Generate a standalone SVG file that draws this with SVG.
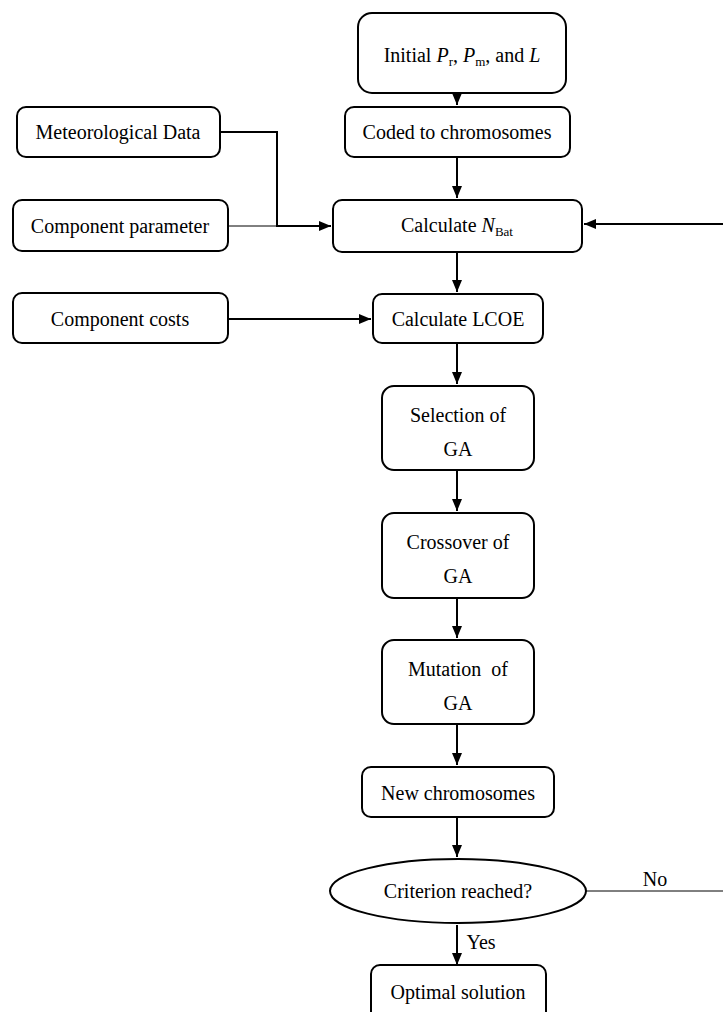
<svg xmlns="http://www.w3.org/2000/svg" width="723" height="1012" viewBox="0 0 723 1012">
<defs>
<marker id="ah" markerWidth="12" markerHeight="10" refX="12" refY="5" orient="auto" markerUnits="userSpaceOnUse">
<path d="M0,0 L12,5 L0,10 Z" fill="#000"/>
</marker>
<style>
.box{fill:#fff;stroke:#000;stroke-width:2}
.t{font-family:"Liberation Serif","Times New Roman",serif;font-size:20px;fill:#000;text-anchor:middle}
.s{font-size:13px}
.c{fill:none;stroke:#000;stroke-width:2}
.thin{fill:none;stroke:#000;stroke-width:1}
</style>
</defs>
<rect width="723" height="1012" fill="#fff"/>
<g id="connectors">
<path class="c" d="M457,65 V105" marker-end="url(#ah)"/>
<path class="c" d="M457,157 V198" marker-end="url(#ah)"/>
<path class="c" d="M220,132 H277 V226 H331" marker-end="url(#ah)"/>
<path class="thin" d="M228,226 H277"/>
<path class="c" d="M723,224 H584" marker-end="url(#ah)"/>
<path class="c" d="M457,252 V292" marker-end="url(#ah)"/>
<path class="c" d="M228,319 H371" marker-end="url(#ah)"/>
<path class="c" d="M457,343 V384" marker-end="url(#ah)"/>
<path class="c" d="M457,470 V511" marker-end="url(#ah)"/>
<path class="c" d="M457,598 V638" marker-end="url(#ah)"/>
<path class="c" d="M457,724 V765" marker-end="url(#ah)"/>
<path class="c" d="M457,817 V857" marker-end="url(#ah)"/>
<path class="c" d="M457,925 V965" marker-end="url(#ah)"/>
<path class="thin" d="M586,891 H723"/>
<text class="t" x="655" y="886">No</text>
<text class="t" x="481" y="949">Yes</text>
</g>
<g id="initial">
<rect class="box" x="358" y="13" width="208" height="80" rx="14"/>
<text class="t" x="462" y="62">Initial <tspan font-style="italic">P</tspan><tspan class="s" dy="4">r</tspan><tspan dy="-4">, </tspan><tspan font-style="italic">P</tspan><tspan class="s" dy="4">m</tspan><tspan dy="-4">, and </tspan><tspan font-style="italic">L</tspan></text>
</g>
<g id="coded">
<rect class="box" x="345" y="107" width="225" height="50" rx="9"/>
<text class="t" x="457" y="139">Coded to chromosomes</text>
</g>
<g id="meteo">
<rect class="box" x="17" y="107" width="203" height="50" rx="9"/>
<text class="t" x="118" y="139">Meteorological Data</text>
</g>
<g id="comppar">
<rect class="box" x="13" y="200" width="215" height="51" rx="9"/>
<text class="t" x="120" y="233">Component parameter</text>
</g>
<g id="nbat">
<rect class="box" x="333" y="200" width="249" height="52" rx="9"/>
<text class="t" x="457" y="232">Calculate <tspan font-style="italic">N</tspan><tspan class="s" dy="4">Bat</tspan></text>
</g>
<g id="costs">
<rect class="box" x="13" y="293" width="215" height="50" rx="9"/>
<text class="t" x="120" y="326">Component costs</text>
</g>
<g id="lcoe">
<rect class="box" x="373" y="294" width="170" height="49" rx="9"/>
<text class="t" x="458" y="326">Calculate LCOE</text>
</g>
<g id="selection">
<rect class="box" x="382" y="386" width="152" height="84" rx="12"/>
<text class="t" x="458" y="422">Selection of</text>
<text class="t" x="458" y="456">GA</text>
</g>
<g id="crossover">
<rect class="box" x="382" y="513" width="152" height="85" rx="12"/>
<text class="t" x="458" y="549">Crossover of</text>
<text class="t" x="458" y="583">GA</text>
</g>
<g id="mutation">
<rect class="box" x="382" y="640" width="152" height="84" rx="12"/>
<text class="t" x="458" y="676" xml:space="preserve">Mutation  of</text>
<text class="t" x="458" y="710">GA</text>
</g>
<g id="newchrom">
<rect class="box" x="362" y="767" width="192" height="50" rx="9"/>
<text class="t" x="458" y="800">New chromosomes</text>
</g>
<g id="criterion">
<ellipse class="box" cx="458" cy="891" rx="128" ry="32"/>
<text class="t" x="458" y="898">Criterion reached?</text>
</g>
<g id="optimal">
<rect class="box" x="371" y="965" width="175" height="60" rx="9"/>
<text class="t" x="458" y="999">Optimal solution</text>
</g>
</svg>
